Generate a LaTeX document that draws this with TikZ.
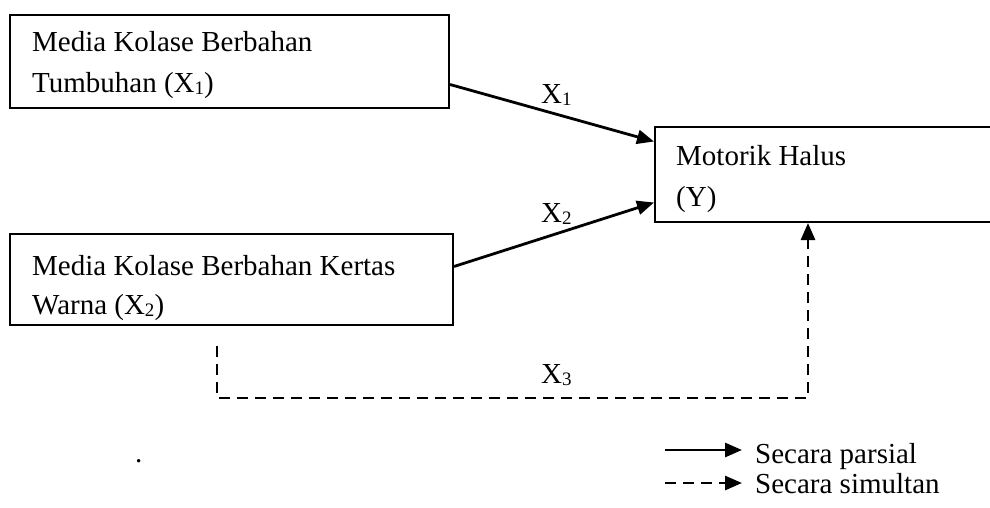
\documentclass[tikz,border=0pt]{standalone}
\usepackage{fontspec}
\setmainfont{Liberation Serif}
\usetikzlibrary{arrows.meta}
\tikzset{
  box/.style={draw, line width=2pt, inner sep=0pt, anchor=north west, align=left},
  txt/.style={inner sep=0pt, anchor=base west, font=\fontsize{29}{40}\selectfont},
  lbl/.style={inner sep=0pt, anchor=base west, font=\fontsize{29}{40}\selectfont},
  conn/.style={line width=2.8pt, -{Triangle[length=17pt,width=14pt]}},
  dconn/.style={conn, dash pattern=on 11pt off 7pt}
}
\newcommand{\sbs}[1]{\raisebox{-0.2ex}{\fontsize{19}{20}\selectfont #1}}
\begin{document}
\begin{tikzpicture}[x=1pt,y=-1pt]
\useasboundingbox (0,0) rectangle (990,507);
\clip (0,0) rectangle (990,507);
% boxes
\node[box, minimum width=439pt, minimum height=93pt] (b1) at (9,14) {};
\node[box, minimum width=443pt, minimum height=91pt] (b2) at (9,233) {};
\node[box, minimum width=400pt, minimum height=95pt] (yb) at (654,126) {};
% texts
\node[txt] (t1a) at (32,51) {Media Kolase Berbahan};
\node[txt] (t1b) at (32,92) {Tumbuhan (X\sbs{1})};
\node[txt] (t2a) at (32,275) {Media Kolase Berbahan Kertas};
\node[txt] (t2b) at (32,314) {Warna (X\sbs{2})};
\node[txt] (tya) at (676,165) {Motorik Halus};
\node[txt] (tyb) at (676,206) {(Y)};
% connectors
\draw[conn] ([yshift=-23pt]b1.east) -- ([yshift=33pt]yb.west);
\draw[conn] ([yshift=13pt]b2.east) -- ([yshift=-28pt]yb.west);
\coordinate (d0) at (217,346);
\coordinate (d1) at (217,398);
\coordinate (d2) at (808,398);
\draw[dconn] (d0) -- (d1) -- (d2) -- (d2 |- yb.south);
% labels
\node[lbl] (l1) at (541,103) {X\sbs{1}};
\node[lbl] (l2) at (541,222) {X\sbs{2}};
\node[lbl] (l3) at (541,383) {X\sbs{3}};
% dot
\node[txt] (dot) at (135,462) {.};
% legend
\coordinate (s0) at (665,450);
\coordinate (s1) at (742,450);
\coordinate (e0) at (665,483);
\coordinate (e1) at (742,483);
\draw[conn] (s0) -- (s1);
\draw[dconn] (e0) -- (e1);
\node[txt] (lg1) at (755,463) {Secara parsial};
\node[txt] (lg2) at (755,493) {Secara simultan};
\end{tikzpicture}
\end{document}
